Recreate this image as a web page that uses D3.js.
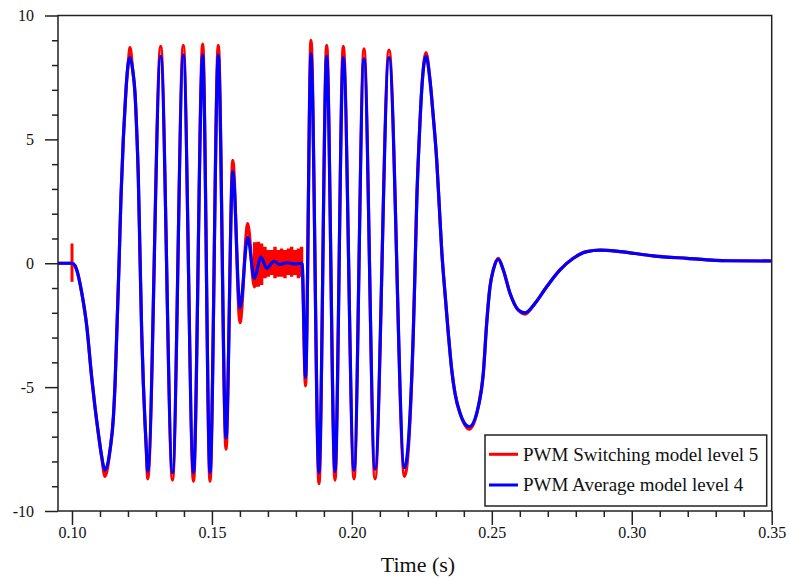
<!DOCTYPE html>
<html><head><meta charset="utf-8">
<script src="https://cdn.jsdelivr.net/npm/d3@7/dist/d3.min.js"></script>
<style>
body{margin:0;background:#fff;}
text{font-family:"Liberation Serif","Times New Roman",Times,serif;fill:#111;}
</style>
</head><body>
<svg id="chart" width="789" height="579"></svg>
<script>
// ---- data (time in s, value) ----
const blueT = [0.0950,0.1000,0.1011,0.1017,0.1035,0.1053,0.1070,0.1082,0.1094,0.1106,0.1118,
  0.1136,0.1148,0.1154,0.1160,0.11679,0.11751,0.11833,0.11894,0.11954,0.12012,0.12072,
  0.12169,0.12251,0.12312,0.12369,0.12430,0.12491,0.12548,0.12609,0.12655,0.12705,
  0.13169,0.13591,0.13977,0.14341,0.14670,0.14931,0.15227,0.15502,0.15745,0.16003,0.16278,
  0.16514,0.16753,0.16957,0.17217,0.17432,0.17682,0.17968,0.18218,
  0.18343,0.18539,0.18825,0.19100,0.19397,0.19693,0.20076,0.20433,0.20826,0.21326,0.21880,
  0.22194,0.22255,0.22316,0.22409,0.22495,0.22648,
  0.22791,0.22909,0.23031,0.23124,0.23209,0.23327,0.23445,0.23567,0.23684,0.23863,0.24195,
  0.24517,0.24696,0.24817,0.24935,0.25053,0.25232,0.25410,0.25650,0.25946,0.26186,
  0.26543,0.26961,0.27436,0.27911,0.28390,0.28865,0.29580,0.30759,0.31974,0.33403,0.3500];
const blueV = [0,0,-0.1,-0.27,-1.2,-2.56,-4.57,-5.79,-6.85,-7.8,-8.35,
  -7.53,-6.2,-4.83,-2.82,-0.1,2.7,5.0,6.3,7.4,8.1,8.3,
  7.8,6.87,5.37,3.49,0.3,-2.82,-4.83,-6.45,-7.5,-8.4,
  8.35,-8.45,8.4,-8.45,8.4,-8.45,8.4,-7.05,3.7,-1.8,1.05,
  -0.6,0.25,-0.2,0.08,-0.05,0.02,-0.03,0.0,
  -4.6,8.45,-8.45,8.35,-8.4,8.3,-8.35,8.25,-8.3,8.3,-8.25,
  -2.83,-0.3,2.42,5.1,7.0,8.35,
  7.39,5.91,4.16,2.28,0.53,-1.21,-2.83,-4.3,-5.25,-6.05,-6.6,
  -5.79,-4.44,-2.42,-0.95,-0.27,0.16,-0.27,-1.21,-1.89,-2.0,
  -1.62,-0.95,-0.27,0.2,0.47,0.53,0.47,0.3,0.2,0.1,0.09];

const redT = [0.0950,0.0999,0.1011,0.1017,0.1035,0.1053,0.1070,0.1082,0.1094,0.1106,0.1118,
  0.1136,0.1148,0.1154,0.1160,0.11679,0.11751,0.11833,0.11894,0.11954,0.12012,0.12072,
  0.12169,0.12251,0.12312,0.12369,0.12430,0.12491,0.12548,0.12609,0.12655,0.12705,
  0.13169,0.13591,0.13977,0.14341,0.14670,0.14931,0.15227,0.15502,0.15745,0.16003,0.16278,
  0.16514,0.16753,0.16957,0.17217,0.17432,0.17682,0.17968,0.18218,
  0.18343,0.18539,0.18825,0.19100,0.19397,0.19693,0.20076,0.20433,0.20826,0.21326,0.21880,
  0.22194,0.22255,0.22316,0.22409,0.22495,0.22648,
  0.22791,0.22909,0.23031,0.23124,0.23209,0.23327,0.23445,0.23567,0.23684,0.23863,0.24195,
  0.24517,0.24696,0.24817,0.24935,0.25053,0.25232,0.25410,0.25650,0.25946,0.26186,
  0.26543,0.26961,0.27436,0.27911,0.28390,0.28865,0.29580,0.30759,0.31974,0.33403,0.3500];
const redV = [0,0,-0.1,-0.27,-1.2,-2.56,-4.57,-5.79,-6.85,-7.8,-8.6,
  -7.53,-6.2,-4.83,-2.82,-0.1,2.7,5.0,6.3,7.4,8.1,8.7,
  7.8,6.87,5.37,3.49,0.3,-2.82,-4.83,-6.45,-7.5,-8.7,
  8.75,-8.75,8.8,-8.8,8.85,-8.8,8.8,-7.5,4.15,-2.4,1.6,
  -0.95,0.25,-0.2,0.08,-0.05,0.02,-0.03,0.0,
  -4.95,9.0,-8.9,8.8,-8.75,8.75,-8.7,8.65,-8.7,8.6,-8.6,
  -2.83,-0.3,2.42,5.1,7.0,8.5,
  7.39,5.91,4.16,2.28,0.53,-1.21,-2.83,-4.3,-5.25,-6.05,-6.7,
  -5.79,-4.44,-2.42,-0.95,-0.27,0.2,-0.27,-1.21,-1.89,-2.05,
  -1.62,-0.95,-0.27,0.2,0.47,0.53,0.47,0.3,0.2,0.1,0.09];

// switching spike at t = 0.100
const spikeT = [0.1000];
const spikeHi = [0.8];
const spikeLo = [-0.75];

// switching ripple band (red) envelope
const noiseT  = [0.16467,0.16599,0.16717,0.16835,0.16957,0.17074,0.17192,0.17314,0.17432,0.17550,0.17671,0.17789,0.17907,0.18029,0.18146,0.18264];
const noiseHi = [0.85,0.87,0.80,0.67,0.53,0.53,0.67,0.53,0.60,0.53,0.60,0.67,0.53,0.60,0.67,0.60];
const noiseLo = [-0.95,-0.95,-0.88,-0.61,-0.54,-0.47,-0.61,-0.54,-0.54,-0.61,-0.47,-0.54,-0.47,-0.61,-0.54,-0.54];

const xMajor = [0.10,0.15,0.20,0.25,0.30,0.35];
const xMajorLabels = ["0.10","0.15","0.20","0.25","0.30","0.35"];
const yMajor = [-10,-5,0,5,10];
const yMajorLabels = ["-10","-5","0","5","10"];
const xLabel = "Time (s)";
const legendLabels = ["PWM Switching model level 5","PWM Average model level 4"];
const seriesColors = ["#ff0000","#0000ff"];

// ---- layout ----
const L = 58, R = 771.7, T = 15.5, B = 511;
const svg = d3.select("#chart");
const x = d3.scaleLinear().domain([0.095, 0.35]).range([L, R]);
const y = d3.scaleLinear().domain([-10, 10]).range([B, T]);

svg.append("defs").append("clipPath").attr("id","clip")
  .append("rect").attr("x",L).attr("y",T).attr("width",R-L).attr("height",B-T);

const plot = svg.append("g").attr("clip-path","url(#clip)");

const line = d3.line().x(d=>x(d[0])).y(d=>y(d[1])).curve(d3.curveMonotoneX);

const redData = redT.map((t,i)=>[t, redV[i]]);
const blueData = blueT.map((t,i)=>[t, blueV[i]]);

plot.append("path").datum(redData).attr("d", line)
  .attr("fill","none").attr("stroke",seriesColors[0]).attr("stroke-width",3.2).attr("stroke-linejoin","round");

const band = d3.area().x(d=>x(d[0])).y0(d=>y(d[2])).y1(d=>y(d[1])).curve(d3.curveStepAfter);
plot.append("path").datum(noiseT.map((t,i)=>[t, noiseHi[i], noiseLo[i]]))
  .attr("d", band).attr("fill",seriesColors[0]);

plot.selectAll("line.spike").data(spikeT).join("line").attr("class","spike")
  .attr("x1",d=>x(d)).attr("x2",d=>x(d))
  .attr("y1",(d,i)=>y(spikeHi[i])).attr("y2",(d,i)=>y(spikeLo[i]))
  .attr("stroke",seriesColors[0]).attr("stroke-width",3);

plot.append("path").datum(blueData).attr("d", line)
  .attr("fill","none").attr("stroke",seriesColors[1]).attr("stroke-width",3.2).attr("stroke-linejoin","round");

// ---- axes ----
const axisColor = "#222";
const yMinor = d3.range(-10, 11, 1).filter(v => !yMajor.includes(v));
const xMinor = d3.range(10, 36, 1).map(v=>v/100).filter(v => !xMajor.some(m=>Math.abs(m-v)<1e-9));

const gy = svg.append("g").attr("transform",`translate(${L},0)`)
  .call(d3.axisLeft(y).tickValues(yMajor).tickSize(13).tickPadding(11)
    .tickFormat((d,i)=>yMajorLabels[i]));
const gyMinor = svg.append("g").attr("transform",`translate(${L},0)`)
  .call(d3.axisLeft(y).tickValues(yMinor).tickSize(6).tickFormat(""));
const gx = svg.append("g").attr("transform",`translate(0,${B})`)
  .call(d3.axisBottom(x).tickValues(xMajor).tickSize(14).tickPadding(2)
    .tickFormat((d,i)=>xMajorLabels[i]));
const gxMinor = svg.append("g").attr("transform",`translate(0,${B})`)
  .call(d3.axisBottom(x).tickValues(xMinor).tickSize(6).tickFormat(""));

[gy,gyMinor,gx,gxMinor].forEach(g=>{
  g.select(".domain").remove();
  g.selectAll(".tick line").attr("stroke",axisColor).attr("stroke-width",1.5);
  g.selectAll("text").attr("font-size",16).attr("fill","#111")
    .attr("font-family",'"Liberation Serif","Times New Roman",serif');
});

// frame
svg.append("rect").attr("x",L).attr("y",T).attr("width",R-L).attr("height",B-T)
  .attr("fill","none").attr("stroke",axisColor).attr("stroke-width",1.5);

svg.append("text").attr("x",418).attr("y",572).attr("text-anchor","middle")
  .attr("font-size",22).text(xLabel);

// ---- legend ----
const lg = svg.append("g");
lg.append("rect").attr("x",485).attr("y",435).attr("width",281.7).attr("height",71)
  .attr("fill","#fff").attr("stroke",axisColor).attr("stroke-width",1.5);
const rows = [454.3, 485];
const base = [460.7, 491];
legendLabels.forEach((lab,i)=>{
  lg.append("line").attr("x1",489).attr("x2",518).attr("y1",rows[i]).attr("y2",rows[i])
    .attr("stroke",seriesColors[i]).attr("stroke-width",3);
  lg.append("text").attr("x",523).attr("y",base[i]).attr("font-size",19).text(lab);
});
</script>
</body></html>
